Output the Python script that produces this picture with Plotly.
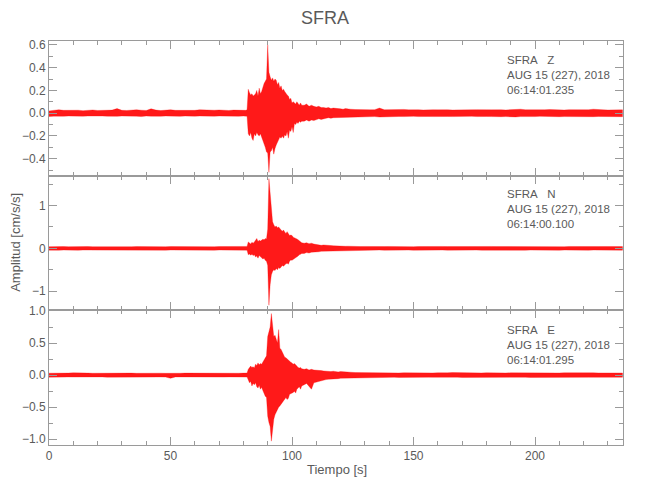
import numpy as np
import plotly.graph_objects as go
from plotly.subplots import make_subplots

# ---- sample times (s): pre-event, event (fine), decay, post-event ----
T_PRE = list(np.arange(0, 81, 2.0)) + [81.0, 81.5]       # 43
T_EVT = list(np.arange(82, 104.01, 0.5))                  # 45
T_MID = list(np.arange(105, 124.01, 1.0))                 # 20
T_POST = list(np.arange(126, 236.01, 2.0))                # 56

# ---- SFRA Z : upper / lower envelope (cm/s/s) ----
Z_UP_PRE = [0.020, 0.028, 0.030, 0.025, 0.027, 0.024, 0.026, 0.022,
            0.025, 0.028, 0.024, 0.026, 0.023, 0.027, 0.040, 0.025,
            0.024, 0.028, 0.030, 0.026, 0.024, 0.038, 0.027, 0.023,
            0.026, 0.030, 0.025, 0.024, 0.028, 0.026, 0.025, 0.030,
            0.027, 0.024, 0.026, 0.028, 0.025, 0.024, 0.027, 0.025,
            0.024, 0.025, 0.030]
Z_LO_PRE = [-0.030, -0.026, -0.024, -0.027, -0.025, -0.028, -0.024, -0.026,
            -0.025, -0.023, -0.027, -0.025, -0.026, -0.024, -0.028, -0.025,
            -0.027, -0.024, -0.026, -0.030, -0.025, -0.026, -0.024, -0.027,
            -0.025, -0.023, -0.026, -0.028, -0.025, -0.024, -0.026, -0.025,
            -0.027, -0.024, -0.026, -0.025, -0.024, -0.026, -0.025, -0.027,
            -0.025, -0.026, -0.028]
Z_UP_EVT = [0.21, 0.18, 0.16, 0.17, 0.15,
            0.16, 0.17, 0.20, 0.15, 0.22,
            0.17, 0.19, 0.23, 0.26, 0.28,
            0.30, 0.60, 0.36, 0.32, 0.29,
            0.31, 0.28, 0.30, 0.29, 0.25,
            0.27, 0.22, 0.24, 0.20, 0.21,
            0.19, 0.17, 0.16, 0.15, 0.12,
            0.13, 0.09, 0.10, 0.09, 0.08,
            0.10, 0.08, 0.07, 0.09, 0.07]
Z_LO_EVT = [-0.18, -0.20, -0.17, -0.22, -0.24,
            -0.18, -0.20, -0.17, -0.19, -0.20,
            -0.18, -0.22, -0.24, -0.27, -0.30,
            -0.34, -0.35, -0.52, -0.34, -0.33,
            -0.30, -0.36, -0.31, -0.28, -0.25,
            -0.23, -0.21, -0.22, -0.20, -0.22,
            -0.19, -0.20, -0.16, -0.22, -0.15,
            -0.16, -0.12, -0.17, -0.09, -0.10,
            -0.08, -0.09, -0.07, -0.08, -0.07]
Z_UP_MID = [0.070, 0.080, 0.060, 0.070, 0.060, 0.055, 0.060, 0.050, 0.050, 0.045,
            0.050, 0.040, 0.045, 0.040, 0.040, 0.038, 0.035, 0.040, 0.035, 0.035]
Z_LO_MID = [-0.070, -0.060, -0.070, -0.060, -0.065, -0.055, -0.050, -0.055, -0.050, -0.045,
            -0.040, -0.045, -0.040, -0.040, -0.035, -0.038, -0.035, -0.035, -0.033, -0.035]
Z_UP_POST = [0.032, 0.030, 0.033, 0.030, 0.031, 0.045, 0.030, 0.032,
             0.028, 0.030, 0.033, 0.029, 0.031, 0.030, 0.028, 0.032,
             0.030, 0.029, 0.031, 0.030, 0.028, 0.030, 0.032, 0.029,
             0.030, 0.031, 0.028, 0.030, 0.029, 0.031, 0.030, 0.028,
             0.030, 0.038, 0.035, 0.030, 0.029, 0.031, 0.028, 0.030,
             0.032, 0.029, 0.030, 0.028, 0.031, 0.030, 0.029, 0.032,
             0.030, 0.035, 0.030, 0.029, 0.028, 0.030, 0.031, 0.029]
Z_LO_POST = [-0.030, -0.032, -0.029, -0.031, -0.030, -0.034, -0.030, -0.028,
             -0.031, -0.029, -0.030, -0.032, -0.028, -0.030, -0.031, -0.029,
             -0.030, -0.028, -0.031, -0.029, -0.030, -0.032, -0.029, -0.030,
             -0.028, -0.030, -0.031, -0.029, -0.030, -0.028, -0.031, -0.030,
             -0.029, -0.033, -0.030, -0.031, -0.029, -0.030, -0.028, -0.031,
             -0.030, -0.029, -0.031, -0.030, -0.028, -0.030, -0.032, -0.029,
             -0.030, -0.031, -0.029, -0.030, -0.031, -0.028, -0.030, -0.031]

# ---- SFRA N ----
N_UP_PRE = [0.040, 0.045, 0.038, 0.042, 0.040, 0.044, 0.039, 0.041,
            0.043, 0.040, 0.038, 0.045, 0.041, 0.040, 0.042, 0.039,
            0.044, 0.040, 0.041, 0.038, 0.043, 0.040, 0.045, 0.041,
            0.039, 0.042, 0.040, 0.044, 0.041, 0.038, 0.042, 0.040,
            0.043, 0.040, 0.039, 0.042, 0.040, 0.044, 0.041, 0.039,
            0.042, 0.040, 0.045]
N_LO_PRE = [-0.042, -0.039, -0.044, -0.040, -0.041, -0.038, -0.043, -0.040,
            -0.039, -0.042, -0.040, -0.038, -0.044, -0.041, -0.039, -0.042,
            -0.040, -0.043, -0.039, -0.041, -0.040, -0.044, -0.038, -0.041,
            -0.042, -0.039, -0.041, -0.040, -0.043, -0.040, -0.039, -0.042,
            -0.040, -0.041, -0.043, -0.039, -0.042, -0.040, -0.041, -0.043,
            -0.040, -0.042, -0.044]
N_UP_EVT = [0.15, 0.12, 0.10, 0.14, 0.12,
            0.15, 0.18, 0.23, 0.16, 0.19,
            0.17, 0.20, 0.21, 0.20, 0.23,
            0.22, 0.45, 1.63, 1.24, 0.93,
            0.62, 0.55, 0.50, 0.52, 0.48,
            0.50, 0.45, 0.43, 0.40, 0.43,
            0.38, 0.35, 0.39, 0.33, 0.30,
            0.31, 0.30, 0.26, 0.25, 0.23,
            0.22, 0.20, 0.17, 0.15, 0.13]
N_LO_EVT = [-0.15, -0.13, -0.16, -0.14, -0.17,
            -0.15, -0.20, -0.18, -0.23, -0.17,
            -0.20, -0.22, -0.25, -0.23, -0.28,
            -0.30, -0.40, -1.33, -0.85, -0.62,
            -0.54, -0.50, -0.52, -0.47, -0.50,
            -0.45, -0.47, -0.43, -0.40, -0.42,
            -0.39, -0.36, -0.35, -0.37, -0.30,
            -0.27, -0.28, -0.25, -0.23, -0.22,
            -0.20, -0.18, -0.15, -0.14, -0.12]
N_UP_MID = [0.12, 0.13, 0.11, 0.12, 0.10, 0.09, 0.08, 0.07, 0.08, 0.07,
            0.060, 0.065, 0.060, 0.055, 0.050, 0.055, 0.050, 0.048, 0.050, 0.045]
N_LO_MID = [-0.12, -0.10, -0.11, -0.09, -0.09, -0.08, -0.08, -0.07, -0.07, -0.065,
            -0.060, -0.060, -0.055, -0.050, -0.050, -0.050, -0.048, -0.045, -0.050, -0.045]
N_UP_POST = [0.045, 0.042, 0.044, 0.040, 0.048, 0.042, 0.041, 0.044,
             0.040, 0.043, 0.041, 0.044, 0.040, 0.042, 0.045, 0.041,
             0.042, 0.040, 0.044, 0.041, 0.043, 0.040, 0.042, 0.045,
             0.041, 0.043, 0.040, 0.042, 0.044, 0.041, 0.040, 0.043,
             0.042, 0.045, 0.041, 0.040, 0.043, 0.042, 0.044, 0.040,
             0.041, 0.043, 0.042, 0.040, 0.044, 0.041, 0.043, 0.042,
             0.040, 0.044, 0.041, 0.043, 0.042, 0.040, 0.043, 0.041]
N_LO_POST = [-0.043, -0.045, -0.041, -0.044, -0.042, -0.040, -0.043, -0.041,
             -0.042, -0.040, -0.044, -0.041, -0.043, -0.042, -0.040, -0.044,
             -0.041, -0.043, -0.040, -0.042, -0.044, -0.041, -0.043, -0.040,
             -0.044, -0.041, -0.042, -0.040, -0.043, -0.042, -0.041, -0.044,
             -0.040, -0.043, -0.042, -0.044, -0.041, -0.040, -0.043, -0.042,
             -0.042, -0.041, -0.044, -0.040, -0.042, -0.043, -0.041, -0.040,
             -0.043, -0.040, -0.042, -0.044, -0.041, -0.042, -0.040, -0.043]

# ---- SFRA E ----
E_UP_PRE = [0.030, 0.028, 0.032, 0.029, 0.031, 0.035, 0.030, 0.028,
            0.031, 0.029, 0.030, 0.033, 0.028, 0.030, 0.032, 0.029,
            0.030, 0.031, 0.028, 0.030, 0.033, 0.029, 0.031, 0.030,
            0.028, 0.032, 0.030, 0.029, 0.031, 0.030, 0.028, 0.033,
            0.030, 0.029, 0.031, 0.030, 0.028, 0.032, 0.030, 0.029,
            0.031, 0.030, 0.032]
E_LO_PRE = [-0.032, -0.030, -0.028, -0.031, -0.029, -0.030, -0.033, -0.030,
            -0.029, -0.031, -0.030, -0.028, -0.032, -0.030, -0.029, -0.031,
            -0.030, -0.028, -0.031, -0.029, -0.030, -0.032, -0.030, -0.029,
            -0.031, -0.050, -0.028, -0.032, -0.029, -0.030, -0.031, -0.028,
            -0.030, -0.032, -0.029, -0.030, -0.031, -0.028, -0.030, -0.032,
            -0.029, -0.031, -0.030]
E_UP_EVT = [0.09, 0.11, 0.14, 0.12, 0.13,
            0.11, 0.17, 0.15, 0.19, 0.16,
            0.18, 0.17, 0.20, 0.22, 0.25,
            0.30, 0.60, 0.70, 0.75, 0.96,
            0.77, 0.60, 0.62, 0.55, 0.50,
            0.71, 0.42, 0.40, 0.35, 0.30,
            0.28, 0.27, 0.25, 0.24, 0.22,
            0.20, 0.19, 0.17, 0.18, 0.15,
            0.14, 0.12, 0.11, 0.12, 0.10]
E_LO_EVT = [-0.07, -0.12, -0.10, -0.17, -0.13,
            -0.15, -0.12, -0.18, -0.20, -0.16,
            -0.22, -0.19, -0.24, -0.27, -0.33,
            -0.35, -0.64, -0.74, -0.80, -1.03,
            -0.85, -0.69, -0.62, -0.59, -0.54,
            -0.50, -0.48, -0.45, -0.43, -0.40,
            -0.38, -0.35, -0.38, -0.36, -0.30,
            -0.28, -0.28, -0.27, -0.25, -0.28,
            -0.22, -0.20, -0.18, -0.22, -0.17]
E_UP_MID = [0.090, 0.100, 0.080, 0.090, 0.080, 0.080, 0.075, 0.070, 0.065, 0.060,
            0.060, 0.055, 0.060, 0.050, 0.050, 0.055, 0.050, 0.045, 0.050, 0.045]
E_LO_MID = [-0.15, -0.13, -0.17, -0.22, -0.12, -0.10, -0.09, -0.08, -0.08, -0.07,
            -0.065, -0.060, -0.060, -0.055, -0.055, -0.050, -0.050, -0.048, -0.045, -0.045]
E_UP_POST = [0.040, 0.038, 0.036, 0.040, 0.035, 0.037, 0.034, 0.036,
             0.035, 0.033, 0.036, 0.034, 0.035, 0.037, 0.033, 0.035,
             0.034, 0.036, 0.033, 0.035, 0.040, 0.038, 0.034, 0.035,
             0.033, 0.035, 0.034, 0.036, 0.033, 0.035, 0.034, 0.033,
             0.035, 0.034, 0.036, 0.033, 0.035, 0.034, 0.036, 0.033,
             0.034, 0.035, 0.033, 0.036, 0.034, 0.033, 0.035, 0.034,
             0.033, 0.035, 0.034, 0.036, 0.033, 0.035, 0.034, 0.033]
E_LO_POST = [-0.040, -0.036, -0.038, -0.035, -0.037, -0.034, -0.036, -0.035,
             -0.034, -0.036, -0.033, -0.035, -0.034, -0.036, -0.035, -0.033,
             -0.035, -0.033, -0.036, -0.034, -0.035, -0.033, -0.036, -0.034,
             -0.033, -0.035, -0.034, -0.036, -0.033, -0.035, -0.034, -0.035,
             -0.034, -0.033, -0.035, -0.034, -0.036, -0.033, -0.035, -0.034,
             -0.035, -0.034, -0.033, -0.035, -0.034, -0.036, -0.033, -0.035,
             -0.034, -0.035, -0.033, -0.034, -0.036, -0.034, -0.035, -0.033]

STATION = "SFRA"
COMPONENTS = ["Z", "N", "E"]
DATE_TEXT = "AUG 15 (227), 2018"
START_TIMES = ["06:14:01.235", "06:14:00.100", "06:14:01.295"]
Y_RANGES = [[-0.549, 0.634], [-1.45, 1.70], [-1.09, 1.01]]
Y_DTICK = [0.2, 1, 0.5]
Y_MINOR = [0.1, 0.5, 0.25]
Y_FMT = [".1f", "d", ".1f"]
X_RANGE = [0, 236.2]

SERIES = [
    (Z_UP_PRE + Z_UP_EVT + Z_UP_MID + Z_UP_POST, Z_LO_PRE + Z_LO_EVT + Z_LO_MID + Z_LO_POST),
    (N_UP_PRE + N_UP_EVT + N_UP_MID + N_UP_POST, N_LO_PRE + N_LO_EVT + N_LO_MID + N_LO_POST),
    (E_UP_PRE + E_UP_EVT + E_UP_MID + E_UP_POST, E_LO_PRE + E_LO_EVT + E_LO_MID + E_LO_POST),
]
T_ALL = T_PRE + T_EVT + T_MID + T_POST

FONT = "Liberation Sans, Arial, sans-serif"
TXT = "#5a5a5a"
AX = "#9a9a9a"

fig = make_subplots(rows=3, cols=1, shared_xaxes=True, vertical_spacing=0)

for i, (up, lo) in enumerate(SERIES):
    n = min(len(T_ALL), len(up), len(lo))
    t = [float(v) for v in T_ALL[:n]]
    xs = t + t[::-1]
    ys = list(up[:n]) + list(lo[:n])[::-1]
    fig.add_trace(go.Scatter(x=xs, y=ys, mode="lines", fill="toself",
                             fillcolor="rgba(255,0,0,0.9)",
                             line=dict(color="#ff0000", width=0.3),
                             showlegend=False, hoverinfo="skip"),
                  row=i + 1, col=1)

axis_common = dict(showline=True, linecolor=AX, linewidth=1, mirror="ticks",
                   ticks="inside", ticklen=8, tickcolor=AX, tickwidth=1,
                   showgrid=False, zeroline=False,
                   tickfont=dict(family=FONT, size=12, color=TXT))

for i in range(3):
    fig.update_xaxes(range=X_RANGE, dtick=50, tick0=0,
                     minor=dict(ticks="inside", ticklen=4, tickcolor=AX, dtick=10, showgrid=False),
                     row=i + 1, col=1, **axis_common)
    fig.update_yaxes(range=Y_RANGES[i], dtick=Y_DTICK[i], tick0=0, tickformat=Y_FMT[i],
                     minor=dict(ticks="inside", ticklen=4, tickcolor=AX, dtick=Y_MINOR[i], showgrid=False),
                     row=i + 1, col=1, **axis_common)

# plot area in px: x 49.3..623, y 40.7..445
L, R, T, B = 49.3, 623.0, 40.7, 445.0
def py(ypx):
    return (B - ypx) / (B - T)
def px(xpx):
    return (xpx - L) / (R - L)

ann = []
label_mid = [74.5, 209.0, 344.5]
for i in range(3):
    txt = "<br>".join([STATION + "\u00a0\u00a0\u00a0" + COMPONENTS[i], DATE_TEXT, START_TIMES[i]])
    ann.append(dict(text=txt, xref="paper", yref="paper", x=px(505), y=py(label_mid[i]),
                    xanchor="left", yanchor="middle", align="left", showarrow=False,
                    font=dict(family=FONT, size=11.5, color=TXT)))
ann.append(dict(text="Tiempo [s]", xref="paper", yref="paper", x=px(337), y=py(470),
                xanchor="center", yanchor="middle", showarrow=False,
                font=dict(family=FONT, size=13, color=TXT)))
ann.append(dict(text="Amplitud [cm/s/s]", xref="paper", yref="paper", x=px(15), y=py(242),
                xanchor="center", yanchor="middle", showarrow=False, textangle=-90,
                font=dict(family=FONT, size=13, color=TXT)))

fig.update_layout(
    width=650, height=500,
    margin=dict(l=L, r=650 - R, t=T, b=500 - B),
    paper_bgcolor="white", plot_bgcolor="white",
    title=dict(text=STATION, x=0.5, xref="container", xanchor="center",
               y=1 - 18 / 500, yref="container", yanchor="middle",
               font=dict(family=FONT, size=18, color=TXT)),
    annotations=ann,
    showlegend=False,
)

fig.write_html("out.html", config={"displayModeBar": False},
               post_script="document.body.style.margin='0px';")
